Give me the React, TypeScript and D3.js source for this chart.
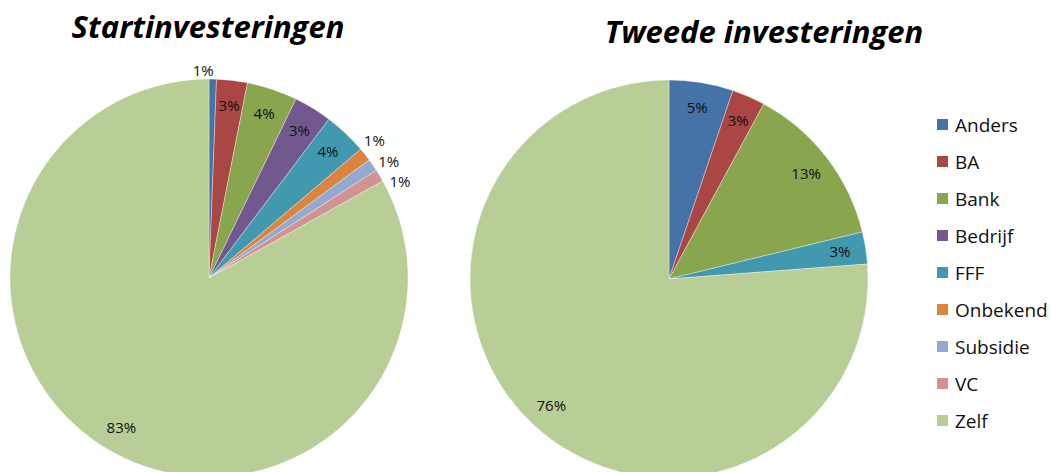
import React from "react";
import * as d3 from "d3";

const categories = ["Anders", "BA", "Bank", "Bedrijf", "FFF", "Onbekend", "Subsidie", "VC", "Zelf"];
const colors = ["#4572A7", "#AA4643", "#89A54E", "#71588F", "#4198AF", "#DB843D", "#93A9CF", "#D19392", "#B9CD96"];

// percentages per category
const startValues = [0.6, 2.5, 4.1, 3.1, 3.5, 1.1, 1.0, 1.0, 83.1];
const tweedeValues = [5.2, 2.7, 13.3, 0, 2.6, 0, 0, 0, 76.2];

// labels that sit outside the slice
const startOutside = ["Anders", "Onbekend", "Subsidie", "VC"];
const tweedeOutside: string[] = [];

const width = 1051;
const height = 472;
const radius = 199;
const font = "'Open Sans', sans-serif";

interface PieProps {
  values: number[];
  outside: string[];
  cx: number;
  cy: number;
  title: string;
  titleX: number;
  titleY: number;
}

const Pie: React.FC<PieProps> = ({ values, outside, cx, cy, title, titleX, titleY }) => {
  const total = d3.sum(values);
  const pie = d3
    .pie<number>()
    .sort(null)
    .value((d) => d);
  const arcs = pie(values);
  const arc = d3.arc<d3.PieArcDatum<number>>().innerRadius(0).outerRadius(radius);
  const labelArc = d3.arc<d3.PieArcDatum<number>>().innerRadius(radius * 0.87).outerRadius(radius * 0.87);
  const outR = radius + 22;

  // place labels, push outside ones apart vertically
  let prevY = -Infinity;
  const labels = arcs.map((a, i) => {
    const isOut = outside.includes(categories[i]);
    const mid = (a.startAngle + a.endAngle) / 2;
    if (!isOut) {
      const [x, y] = labelArc.centroid(a);
      return { x, y, anchor: "middle" };
    }
    if (mid < 0.1) {
      // near the top: right-aligned just above the edge
      const y = -radius - 8;
      prevY = y;
      return { x: Math.sin(mid) * radius + 1, y, anchor: "end" };
    }
    let y = -Math.cos(mid) * outR;
    if (y < prevY + 20.5) y = prevY + 20.5;
    prevY = y;
    const x = Math.sqrt(Math.max(outR * outR - y * y, 0)) - 8;
    return { x, y, anchor: "middle" };
  });

  return (
    <g>
      <text
        x={titleX}
        y={titleY}
        textAnchor="middle"
        fontFamily={font}
        fontWeight="bold"
        fontStyle="italic"
        fontSize={31}
        fill="#000"
      >
        {title}
      </text>
      <g transform={`translate(${cx},${cy})`}>
        {arcs.map((a, i) =>
          a.value > 0 ? (
            <path key={i} d={arc(a) ?? ""} fill={colors[i]} stroke="#ffffff" strokeOpacity={0.5} strokeWidth={0.7} />
          ) : null
        )}
        {arcs.map((a, i) => {
          if (a.value <= 0) return null;
          const l = labels[i];
          return (
            <text
              key={"l" + i}
              x={l.x}
              y={l.y}
              dy="0.35em"
              textAnchor={l.anchor}
              fontFamily={font}
              fontSize={15}
              fill="#111"
            >
              {Math.round((a.value / total) * 100)}%
            </text>
          );
        })}
      </g>
    </g>
  );
};

const App: React.FC = () => {
  const legendY = d3
    .scalePoint<string>()
    .domain(categories)
    .range([125, 421]);

  return (
    <svg
      width={width}
      height={height}
      style={{ position: "absolute", left: 0, top: 0, background: "#fff" }}
    >
      <Pie values={startValues} outside={startOutside} cx={209} cy={278} title="Startinvesteringen" titleX={208} titleY={38} />
      <Pie values={tweedeValues} outside={tweedeOutside} cx={669} cy={279} title="Tweede investeringen" titleX={764} titleY={43} />
      <g>
        {categories.map((c, i) => (
          <g key={c} transform={`translate(937,${legendY(c)})`}>
            <rect x={0} y={-6} width={11} height={11} fill={colors[i]} />
            <text x={18} y={0} dy="0.35em" fontFamily={font} fontSize={19} fill="#111">
              {c}
            </text>
          </g>
        ))}
      </g>
    </svg>
  );
};

export default App;
